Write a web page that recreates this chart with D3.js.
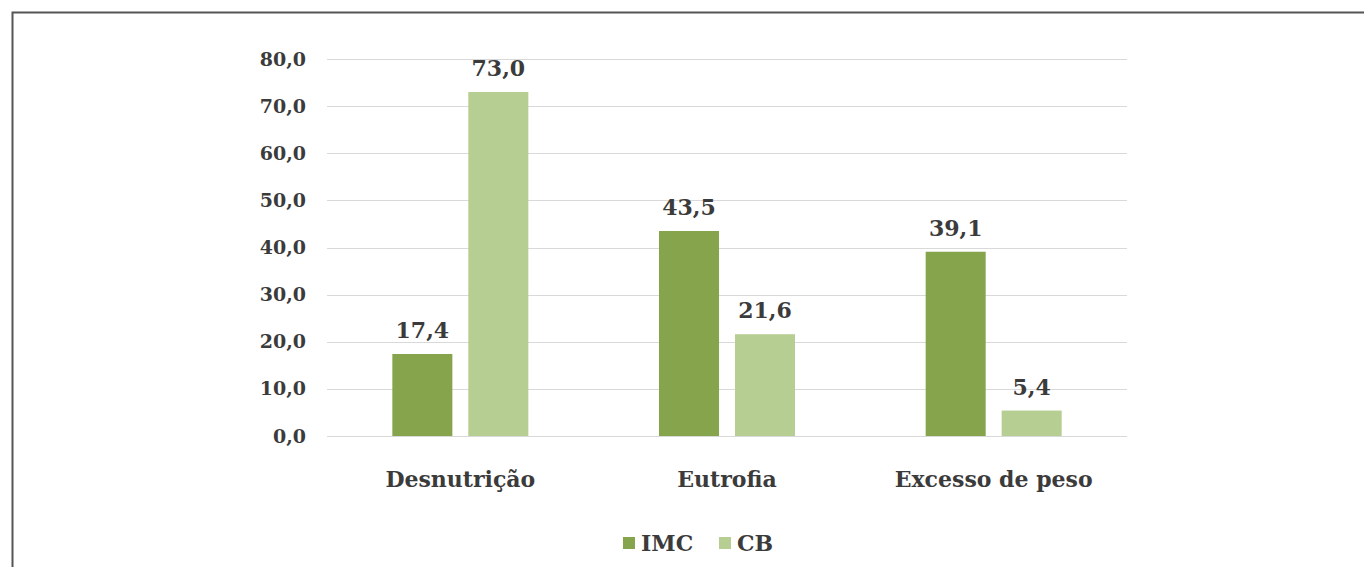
<!DOCTYPE html>
<html>
<head>
<meta charset="utf-8">
<title>IMC x CB</title>
<script src="https://d3js.org/d3.v7.min.js"></script>
<style>
  body { margin: 0; background: #fff; }
  svg text { font-family: "DejaVu Serif", "Liberation Serif", serif; font-weight: bold; fill: #3b3b3b; }
</style>
</head>
<body>
<script>
// data
var categories = ["Desnutrição", "Eutrofia", "Excesso de peso"];
var series = ["IMC", "CB"];
var imc = [17.4, 43.5, 39.1];
var cb = [73.0, 21.6, 5.4];
var yTicks = [0, 10, 20, 30, 40, 50, 60, 70, 80];
var colors = ["#86a44b", "#b7ce92"];

var width = 1364, height = 567;
var plot = {left: 327, right: 1127, top: 59, bottom: 436};

var svg = d3.select("body").append("svg")
    .attr("width", width)
    .attr("height", height);

// frame
svg.append("path")
    .attr("d", "M12.5," + height + "V12.5H" + width)
    .attr("fill", "none")
    .attr("stroke", "#555")
    .attr("stroke-width", 2);

var x = d3.scaleBand()
    .domain(categories)
    .range([plot.left, plot.right]);

var x1 = d3.scaleBand()
    .domain(series)
    .range([x.bandwidth() / 2 - 68, x.bandwidth() / 2 + 68])
    .paddingInner(0.21);

var y = d3.scaleLinear()
    .domain([0, 80])
    .range([plot.bottom, plot.top]);

var fmt = function(d) { return d3.format(".1f")(d).replace(".", ","); };

// gridlines
svg.append("g")
  .selectAll("line")
  .data(yTicks)
  .enter().append("line")
    .attr("x1", plot.left)
    .attr("x2", plot.right)
    .attr("y1", function(d) { return Math.round(y(d)) + 0.5; })
    .attr("y2", function(d) { return Math.round(y(d)) + 0.5; })
    .attr("stroke", "#d9d9d9")
    .attr("stroke-width", 1);

// y axis
var yAxis = d3.axisLeft(y)
    .tickValues(yTicks)
    .tickSize(0)
    .tickPadding(21)
    .tickFormat(fmt);

var gy = svg.append("g")
    .attr("transform", "translate(" + plot.left + ",0)")
    .call(yAxis)
    .attr("font-family", null);
gy.select(".domain").remove();
gy.selectAll("text")
    .attr("font-size", 19)
    .attr("fill", null);

// bars
var rows = categories.map(function(c, i) {
  return {cat: c, vals: [{s: "IMC", v: imc[i]}, {s: "CB", v: cb[i]}]};
});

var groups = svg.selectAll(".grp")
    .data(rows)
    .enter().append("g")
    .attr("class", "grp")
    .attr("transform", function(d) { return "translate(" + x(d.cat) + ",0)"; });

groups.selectAll("rect")
    .data(function(d) { return d.vals; })
    .enter().append("rect")
    .attr("x", function(d) { return x1(d.s); })
    .attr("width", x1.bandwidth())
    .attr("y", function(d) { return y(d.v); })
    .attr("height", function(d) { return y(0) - y(d.v); })
    .attr("fill", function(d, i) { return colors[i]; });

groups.selectAll(".val")
    .data(function(d) { return d.vals; })
    .enter().append("text")
    .attr("class", "val")
    .attr("x", function(d) { return x1(d.s) + x1.bandwidth() / 2; })
    .attr("y", function(d) { return y(d.v) - 16; })
    .attr("text-anchor", "middle")
    .attr("font-size", 22)
    .text(function(d) { return fmt(d.v); });

// category labels
var xAxis = d3.axisBottom(x).tickSize(0).tickPadding(35);
var gx = svg.append("g")
    .attr("transform", "translate(0," + plot.bottom + ")")
    .call(xAxis)
    .attr("font-family", null);
gx.select(".domain").remove();
gx.selectAll("text")
    .attr("font-size", 22)
    .attr("fill", null);

// legend
var legend = svg.append("g")
    .attr("transform", "translate(623,537)");
var lx = [0, 96];
series.forEach(function(s, i) {
  legend.append("rect")
      .attr("x", lx[i])
      .attr("y", 0)
      .attr("width", 12)
      .attr("height", 12)
      .attr("fill", colors[i]);
  legend.append("text")
      .attr("x", lx[i] + 18)
      .attr("y", 14)
      .attr("font-size", 22)
      .text(s);
});
</script>
</body>
</html>
